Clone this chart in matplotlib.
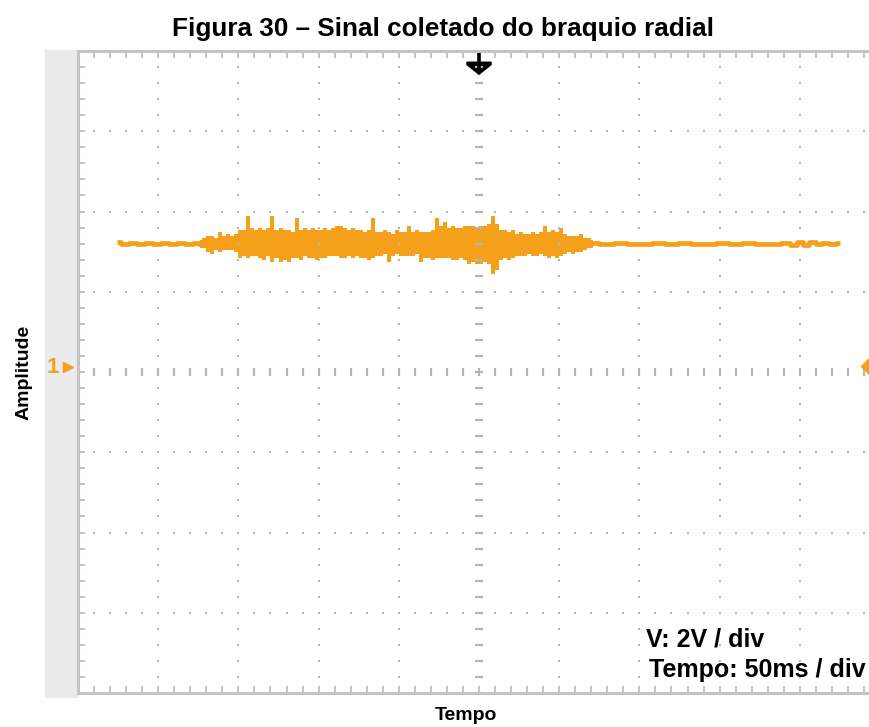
import numpy as np
import matplotlib.pyplot as plt
from matplotlib.patches import Rectangle, Polygon

# Oscilloscope capture: 50 ms/div, 2 V/div, 10 x 8 divisions
T_DIV = 50.0
V_DIV = 2.0
trace_color = '#F5A01A'

# quiet trace before the burst (ms, V)
lead_t = [24.4, 29.4, 34.4, 39.4, 44.4, 49.4, 54.4, 59.4, 64.4, 69.4, 74.4, 77.0]
lead_v = [3.23, 3.19, 3.21, 3.20, 3.22, 3.19, 3.21, 3.19, 3.21, 3.20, 3.22, 3.20]

# burst, min / max per 2.5 ms column starting at 76.25 ms
burst_t0 = 76.25
burst_dt = 2.5
burst_hi = [3.30, 3.33, 3.38, 3.40, 3.35, 3.50, 3.38, 3.43, 3.38, 3.45,
            3.53, 3.55, 3.90, 3.58, 3.55, 3.60, 3.53, 3.58, 3.90, 3.55,
            3.58, 3.53, 3.55, 3.50, 3.83, 3.55, 3.58, 3.53, 3.60, 3.55,
            3.53, 3.58, 3.55, 3.60, 3.65, 3.65, 3.58, 3.55, 3.60, 3.53,
            3.55, 3.50, 3.53, 3.83, 3.50, 3.48, 3.53, 3.50, 3.45, 3.53,
            3.50, 3.48, 3.65, 3.50, 3.53, 3.50, 3.48, 3.50, 3.53, 3.83,
            3.63, 3.75, 3.60, 3.63, 3.60, 3.58, 3.65, 3.63, 3.65, 3.60,
            3.65, 3.63, 3.68, 3.90, 3.70, 3.53, 3.55, 3.50, 3.53, 3.45,
            3.48, 3.43, 3.45, 3.48, 3.43, 3.50, 3.65, 3.50, 3.53, 3.48,
            3.60, 3.43, 3.40, 3.40, 3.38, 3.45, 3.35, 3.33, 3.30]
burst_lo = [3.10, 3.10, 2.98, 2.93, 3.05, 3.00, 3.03, 3.05, 3.03, 2.98,
            2.83, 2.90, 2.83, 2.88, 2.90, 2.85, 2.80, 2.88, 2.75, 2.83,
            2.75, 2.78, 2.75, 2.85, 2.83, 2.80, 2.88, 2.83, 2.85, 2.80,
            2.85, 2.83, 2.88, 2.88, 2.90, 2.85, 2.85, 2.88, 2.85, 2.90,
            2.83, 2.85, 2.80, 2.83, 2.88, 2.90, 2.93, 2.73, 2.90, 2.95,
            2.90, 2.88, 2.90, 2.88, 2.93, 2.73, 2.85, 2.83, 2.80, 2.85,
            2.83, 2.85, 2.83, 2.80, 2.78, 2.85, 2.78, 2.70, 2.75, 2.68,
            2.70, 2.73, 2.70, 2.45, 2.55, 2.80, 2.83, 2.78, 2.85, 2.90,
            2.88, 2.90, 2.93, 2.90, 2.88, 2.93, 2.88, 2.85, 2.90, 2.83,
            2.88, 2.95, 2.98, 2.95, 2.98, 3.00, 3.03, 3.08, 3.10]

# quiet trace after the burst
tail_t = [320.0, 330, 338, 346, 354, 362, 370, 378, 386, 394, 402, 410, 418,
          426, 434, 442, 446, 450, 454, 458, 462, 466, 470, 475]
tail_v = [3.21, 3.19, 3.21, 3.20, 3.19, 3.21, 3.20, 3.21, 3.19, 3.20, 3.21, 3.19,
          3.21, 3.20, 3.19, 3.22, 3.17, 3.25, 3.17, 3.24, 3.18, 3.22, 3.20, 3.21]

trigger_t = 250.0
trigger_level = 0.15

burst_t = burst_t0 + burst_dt * np.arange(len(burst_hi))

plt.rcParams['font.family'] = ['Liberation Sans', 'DejaVu Sans']

fig = plt.figure(figsize=(8.7, 7.27), dpi=100)
# gray side panel of the scope screen
fig.patches.append(Rectangle((45 / 870, 30 / 727), 33 / 870, 647 / 727,
                             transform=fig.transFigure, color='#ebebeb', zorder=-1))
ax = fig.add_axes([78 / 870, 34 / 727, 802 / 870, 642 / 727])
ax.set_xlim(0, 10 * T_DIV)
ax.set_ylim(-4 * V_DIV, 4 * V_DIV)

# dotted graticule
grid_c = '#b4b4b4'
minor_t = np.arange(0, 10 * T_DIV + 1, T_DIV / 5)
minor_v = np.arange(-4 * V_DIV, 4 * V_DIV + 0.01, V_DIV / 5)
for k in range(1, 10):
    if k == 5:
        continue
    ax.plot(np.full_like(minor_v, k * T_DIV), minor_v, ls='', marker='s',
            ms=1.7, color=grid_c, mew=0)
for k in range(-3, 4):
    if k == 0:
        continue
    ax.plot(minor_t, np.full_like(minor_t, k * V_DIV), ls='', marker='s',
            ms=1.7, color=grid_c, mew=0)
# centre axes with small dashes
ax.plot(np.full_like(minor_v, 5 * T_DIV), minor_v, ls='', marker='_',
        ms=6, mew=1.6, color=grid_c)
ax.plot(minor_t, np.zeros_like(minor_t), ls='', marker='|',
        ms=6, mew=1.6, color=grid_c)

# frame
for side in ['top', 'left', 'bottom']:
    ax.spines[side].set_color('#c4c4c4')
    ax.spines[side].set_linewidth(2.2)
ax.spines['right'].set_visible(False)
ax.set_xticks(minor_t)
ax.set_yticks(minor_v)
ax.tick_params(direction='in', length=5, width=1.4, color='#c4c4c4',
               top=True, bottom=True, left=True, right=False,
               labelbottom=False, labelleft=False)

# signal
ax.plot(lead_t, lead_v, color=trace_color, lw=3.4, drawstyle='steps-mid',
        solid_capstyle='butt')
ax.plot(tail_t, tail_v, color=trace_color, lw=3.4, drawstyle='steps-mid',
        solid_capstyle='butt')
ax.fill_between(burst_t, burst_lo, burst_hi, step='mid', color=trace_color, lw=0)

# trigger marker on top
ax.plot([trigger_t, trigger_t], [8.0, 7.55], color='black', lw=2.6)
ax.add_patch(Polygon([[trigger_t - 7.5, 7.72], [trigger_t + 7.5, 7.72],
                      [trigger_t + 7.5, 7.66], [trigger_t, 7.42],
                      [trigger_t - 7.5, 7.66]], closed=True, color='black'))
# channel 1 ground marker and trigger level marker
ax.annotate('1', xy=(0, 0), xytext=(-18, 3), textcoords='offset points',
            ha='center', va='center', color=trace_color, fontsize=16,
            fontweight='bold', annotation_clip=False)
ax.plot([-6], [0.12], marker='>', ms=7, color=trace_color, clip_on=False)
ax.plot([494], [trigger_level], marker='D', ms=9, color=trace_color, clip_on=False)

ax.text(354, -6.67, 'V: 2V / div', fontsize=18, fontweight='bold', va='center')
ax.text(356, -7.42, 'Tempo: 50ms / div', fontsize=18, fontweight='bold',
        va='center')

fig.text(443 / 870, 1 - 29 / 727, 'Figura 30 \u2013 Sinal coletado do braquio radial',
         ha='center', va='center', fontsize=18.8, fontweight='bold')
fig.text(24 / 870, 1 - 372 / 727, 'Amplitude', rotation=90, ha='center',
         va='center', fontsize=14, fontweight='bold')
fig.text(466 / 870, 1 - 716 / 727, 'Tempo', ha='center', va='center',
         fontsize=14, fontweight='bold')

fig.savefig('out.png', dpi=100)
